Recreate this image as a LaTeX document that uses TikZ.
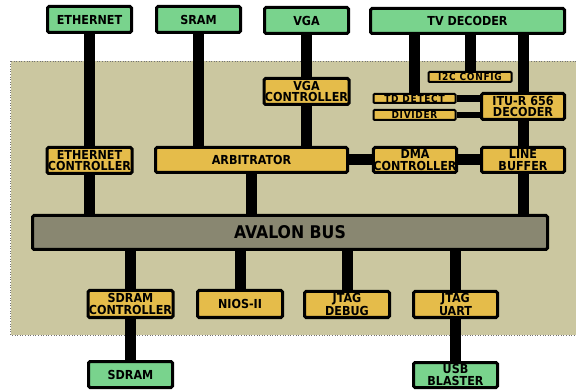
\documentclass[tikz,border=0pt]{standalone}
\usepackage{fontspec}
\setmainfont{DejaVu Sans Condensed}
\newfontfamily\subfont[LetterSpace=7]{DejaVu Sans Condensed}
\usetikzlibrary{backgrounds}

\definecolor{devgreen}{RGB}{121,211,141}
\definecolor{blkyellow}{RGB}{229,188,74}
\definecolor{fpgakhaki}{RGB}{203,199,160}
\definecolor{busgray}{RGB}{137,135,113}

\begin{document}
\begin{tikzpicture}[
  x=1pt, y=-1pt,
  font=\fontsize{12.4}{11.5}\selectfont\bfseries,
  dev/.style={draw=black,line width=3pt,fill=devgreen,rounded corners=1.5pt,
    inner sep=0pt,align=center,minimum width=84pt,minimum height=26pt},
  blk/.style={draw=black,line width=3pt,fill=blkyellow,rounded corners=1.5pt,
    inner sep=0pt,align=center,minimum width=85pt,minimum height=26pt},
  sub/.style={draw=black,line width=2pt,fill=blkyellow,rounded corners=1pt,
    inner sep=0pt,minimum width=84pt,minimum height=10pt,
    text height=7.2pt,text depth=0pt,
    font=\subfont\fontsize{10}{10}\selectfont\bfseries},
  wire/.style={line width=11pt,draw=black},
  thin wire/.style={line width=6.5pt,draw=black}
]
\useasboundingbox (0,0) rectangle (576,390);

% ---- external devices ----
\node[dev] (eth)   at (89.5,19.5)  {ETHERNET};
\node[dev] (sram)  at (198.5,19.5) {SRAM};
\node[dev] (vga)   at (306.5,20.5) {VGA};
\node[dev,minimum width=194pt,minimum height=25pt] (tvdec) at (467.5,21) {TV DECODER};
\node[dev] (sdram) at (130.5,374.5) {SDRAM};
\node[dev,minimum height=25pt] (usb) at (455.5,375) {USB\\BLASTER};

% ---- video path ----
\node[blk] (vgactrl) at (306.5,91.5) {VGA\\CONTROLLER};
\node[sub,minimum width=83pt] (i2c)     at (470,77)    {I2C CONFIG};
\node[sub,minimum width=82pt,minimum height=9pt] (tddet) at (414.5,98.5) {TD DETECT};
\node[sub,minimum width=82pt] (divider) at (414.5,115) {DIVIDER};
\node[blk,minimum width=83pt] (itu)     at (523,106.5) {ITU-R 656\\DECODER};
\node[blk,minimum width=83pt,minimum height=25pt] (dma)     at (415,160) {DMA\\CONTROLLER};
\node[blk,minimum width=83pt,minimum height=25pt] (linebuf) at (523,160) {LINE\\BUFFER};

% ---- memory side ----
\node[blk] (ethctrl) at (89.5,160.5) {ETHERNET\\CONTROLLER};
\node[blk,minimum width=192pt,minimum height=25pt] (arb) at (251.5,160) {ARBITRATOR};

% ---- bus ----
\node[draw=black,line width=3pt,fill=busgray,rounded corners=1.5pt,
      minimum width=515pt,minimum height=34pt,inner sep=0pt,
      font=\fontsize{17.5}{17.5}\selectfont\bfseries] (bus) at (290,232.5) {AVALON BUS};

% ---- bus slaves ----
\node[blk,minimum height=27pt] (sdramctrl) at (130.5,304) {SDRAM\\CONTROLLER};
\node[blk,minimum height=27pt] (nios)      at (240,304)   {NIOS-II};
\node[blk] (jtagdbg)   at (347,304.5)   {JTAG\\DEBUG};
\node[blk,minimum width=84pt] (jtaguart)  at (455.5,304.5) {JTAG\\UART};

% ---- fpga area and wires ----
\begin{scope}[on background layer]
  \draw[fill=fpgakhaki,draw=black!55,line width=0.6pt,dotted]
    (10.5,61) rectangle (582,335);
  \draw[wire] (eth) -- (ethctrl);
  \draw[wire] (ethctrl) -- (ethctrl |- bus.north);
  \draw[wire] (sram) -- (sram |- arb.north);
  \draw[wire] (arb) -- (arb |- bus.north);
  \draw[wire] (vga) -- (vgactrl);
  \draw[wire] (vgactrl) -- (vgactrl |- arb.north);
  \draw[wire] (arb) -- (dma);
  \draw[wire] (dma) -- (linebuf);
  \draw[wire] (tddet) -- (tddet |- tvdec.south);
  \draw[wire] (i2c) -- (i2c |- tvdec.south);
  \draw[wire] (itu) -- (itu |- tvdec.south);
  \draw[thin wire] (tddet) -- (tddet -| itu.west);
  \draw[thin wire] (divider) -- (divider -| itu.west);
  \draw[wire] (itu) -- (linebuf);
  \draw[wire] (linebuf) -- (linebuf |- bus.north);
  \foreach \n in {sdramctrl, nios, jtagdbg, jtaguart}
    \draw[wire] (\n) -- (\n |- bus.south);
  \draw[wire] (sdramctrl) -- (sdram);
  \draw[wire] (jtaguart) -- (usb);
\end{scope}

\end{tikzpicture}
\end{document}
